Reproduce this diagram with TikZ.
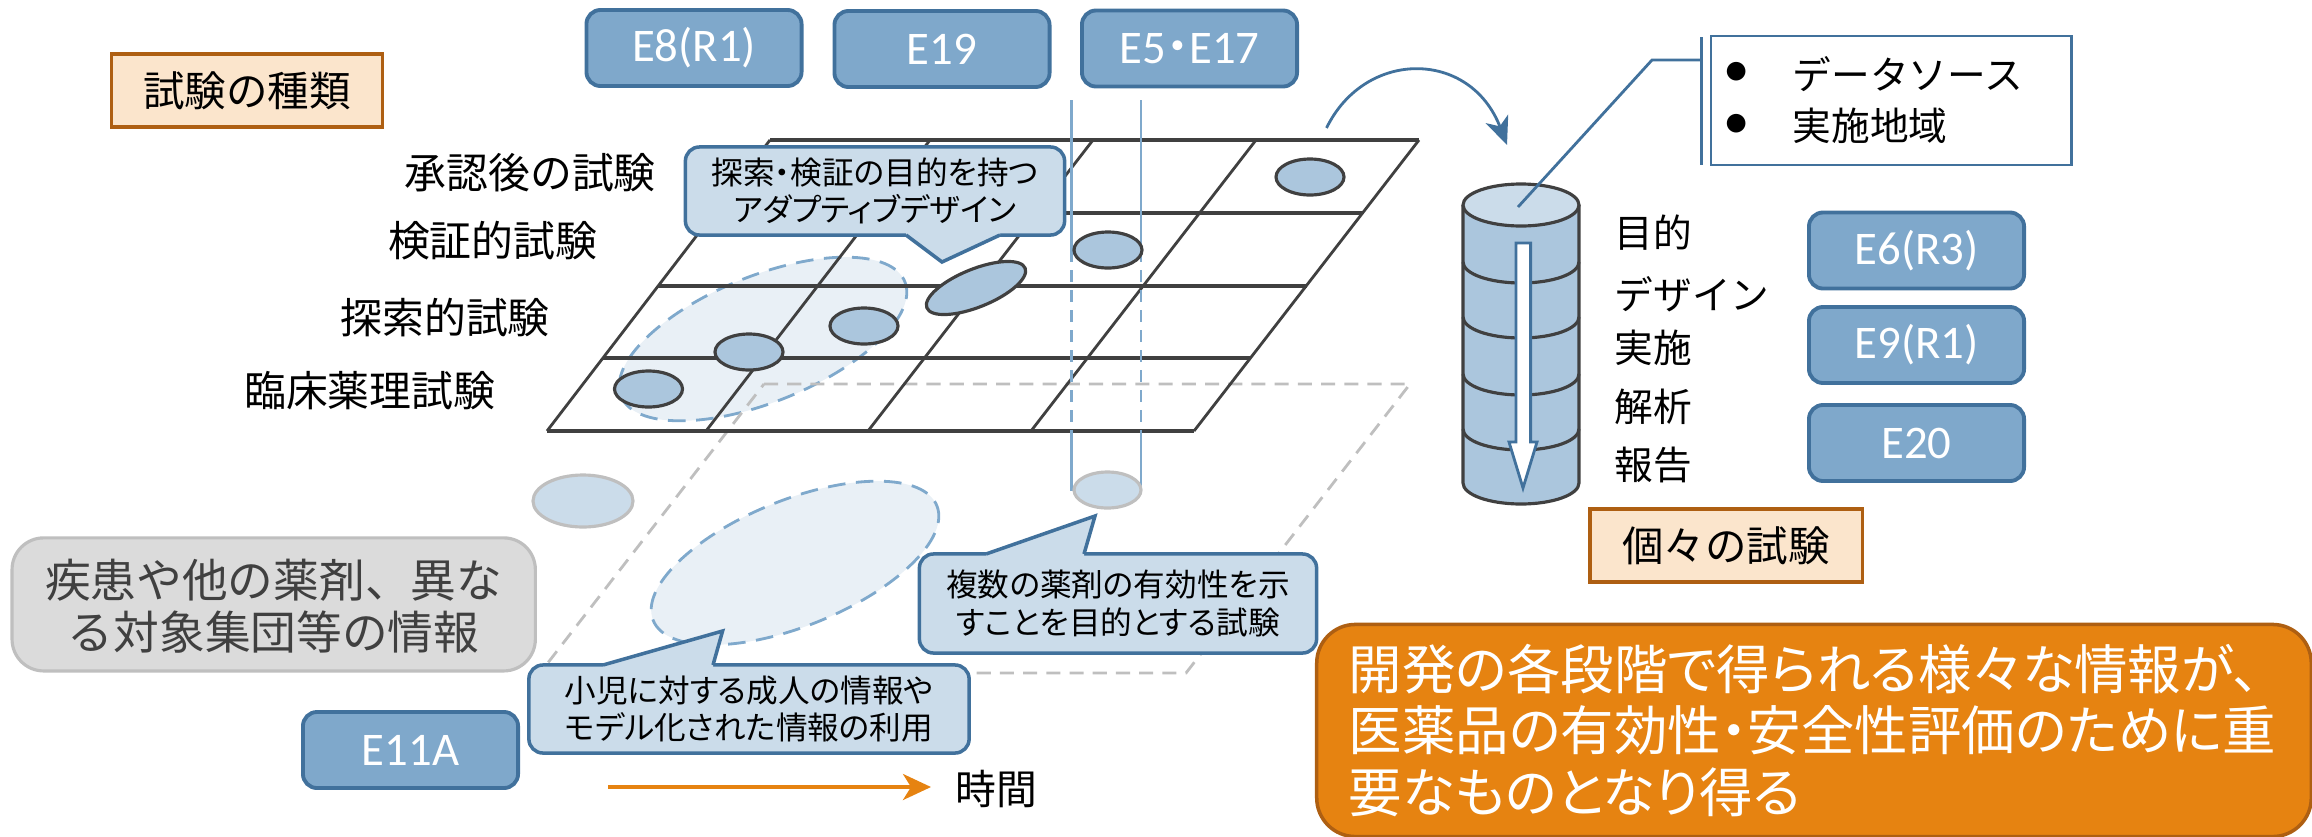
\documentclass[tikz,border=0pt]{standalone}
\usepackage{fontspec}
\setmainfont{Carlito}
\newfontfamily\jp{Noto Sans CJK JP}
\newfontfamily\jpnarrow[RawFeature=+palt]{Noto Sans CJK JP}
\usetikzlibrary{arrows.meta,calc}
\definecolor{boxblue}{HTML}{7FA8CB}
\definecolor{lineblue}{HTML}{41719C}
\definecolor{paleblue}{HTML}{CBDCEA}
\definecolor{midblue}{HTML}{ABC6DD}
\definecolor{ghostblue}{HTML}{E9F0F6}
\definecolor{dashblue}{HTML}{7FA9CC}
\definecolor{darkline}{HTML}{404040}
\definecolor{ghostline}{HTML}{BFBFBF}
\definecolor{peach}{HTML}{FBE5CC}
\definecolor{brownline}{HTML}{AE5F12}
\definecolor{orangebox}{HTML}{E68311}
\tikzset{
  stdbox/.style={rectangle, draw=lineblue, fill=boxblue, text=white, line width=1.1pt, rounded corners=4pt, minimum width=2.15cm, minimum height=0.76cm, font=\fontsize{13.3}{15}\selectfont},
  typebox/.style={rectangle, draw=brownline, fill=peach, line width=0.9pt, font=\jp\fontsize{11.8}{14}\selectfont, inner sep=0pt},
  balloon/.style={rectangle, draw=lineblue, fill=paleblue, line width=1pt, rounded corners=4pt, align=center, font=\jpnarrow\fontsize{9}{10.6}\selectfont, inner sep=0pt},
  balloontip/.style={draw=lineblue, line width=1pt},
  rowlabel/.style={anchor=east, inner sep=0pt, font=\jp\fontsize{11.9}{14}\selectfont},
  steplabel/.style={anchor=west, inner sep=0pt, font=\jp\fontsize{11}{14}\selectfont},
  gridline/.style={draw=darkline, line width=0.8pt},
  gridedge/.style={draw=darkline, line width=0.9pt},
  trialdot/.style={draw=darkline, fill=midblue, line width=0.9pt},
  ghostdot/.style={draw=ghostline, fill=paleblue, line width=0.9pt},
  tube/.style={draw=dashblue, line width=0.6pt},
  tubehidden/.style={draw=dashblue, line width=0.6pt, dash pattern=on 3.4pt off 2.3pt},
  bigoval/.style={fill=ghostblue, draw=dashblue, line width=0.8pt, dash pattern=on 5pt off 3pt},
  ghostplane/.style={draw=ghostline, line width=0.8pt, dash pattern=on 4pt off 2.6pt},
  leader/.style={draw=lineblue, line width=0.8pt},
  legendtext/.style={anchor=west, inner sep=0pt, font=\jp\fontsize{11}{14}\selectfont},
  legenddot/.style={inner sep=0pt, font=\fontsize{15}{15}\selectfont}
}
\begin{document}
\begin{tikzpicture}[x=0.01cm, y=-0.01cm]
    \useasboundingbox (0,0) rectangle (2312,836);

    % ovals
    \draw[bigoval, rotate around={22:(763,339)}] (763,339) ellipse (153 and 63);
    \draw[bigoval, rotate around={22:(795,563)}] (795,563) ellipse (153 and 63);

    % plane below
    \coordinate (gtl) at (764,384);
    \coordinate (gtr) at (1410,384);
    \coordinate (gbr) at (1186,673);
    \coordinate (gbl) at (540,673);
    \draw[ghostplane] (gtl) -- (gtr) -- (gbr) -- (gbl) -- cycle;

    % grid
    \foreach \ya/\xa/\xb in {140/770/1419, 213/714/1363, 286/658/1307, 358/603/1251, 431/547/1194}
        \draw[gridedge] (\xa,\ya) -- (\xb,\ya);
    \foreach \xb/\xt in {547/770, 706/930, 868/1093, 1031/1256, 1194/1419}
        \draw[gridline] (\xb,431) -- (\xt,140);

    % projection
    \draw[tube] (1071.5,100) -- (1071.5,250);
    \draw[tube] (1141,100) -- (1141,250);
    \draw[tubehidden] (1071.5,250) -- (1071.5,431);
    \draw[tubehidden] (1141,250) -- (1141,431);
    \draw[tube] (1071.5,431) -- (1071.5,491);
    \draw[tube] (1141,431) -- (1141,491);

    % trials
    \foreach \cx/\cy in {1310/177, 1108/250, 864/326, 749/352, 648.5/389}
        \draw[trialdot] (\cx,\cy) ellipse (34 and 18);
    \draw[trialdot, rotate around={22:(976,288)}] (976,288) ellipse (53 and 19);
    \draw[ghostdot] (583,501) ellipse (50 and 26);
    \draw[ghostdot] (1107.5,490) ellipse (33.5 and 18);

    % top boxes
    \node[stdbox] (e8) at (694,48) {E8(R1)};
    \node[stdbox] (e19) at (942,49) {E19};
    \node[stdbox] (e5) at (1189.5,48.5) {E5{\jpnarrow・}E17};

    % right boxes
    \node[stdbox] (e6) at (1916.5,250.5) {E6(R3)};
    \node[stdbox] (e9) at (1916.5,345) {E9(R1)};
    \node[stdbox] (e20) at (1916.5,443) {E20};
    \node[stdbox] (e11) at (410.5,750) {E11A};

    % labels
    \node[typebox, minimum width=2.71cm, minimum height=0.73cm] (kind) at (247,90.5) {試験の種類};
    \node[typebox, minimum width=2.72cm, minimum height=0.73cm] (each) at (1726,545.5) {個々の試験};
    \node[rowlabel] (r1) at (656.5,173) {承認後の試験};
    \node[rowlabel] (r2) at (598,241) {検証的試験};
    \node[rowlabel] (r3) at (550.5,318) {探索的試験};
    \node[rowlabel] (r4) at (496,391) {臨床薬理試験};
    \node[steplabel] (s1) at (1614,233) {目的};
    \node[steplabel] (s2) at (1614,294) {デザイン};
    \node[steplabel] (s3) at (1614,348) {実施};
    \node[steplabel] (s4) at (1614,407) {解析};
    \node[steplabel] (s5) at (1614,465) {報告};

    % balloons
    \node[balloon, minimum width=3.79cm, minimum height=0.88cm] (b1) at (875,191) {探索・検証の目的を持つ\\アダプティブデザイン};
    \coordinate (b1a) at (906,235); \coordinate (b1b) at (1000,235); \coordinate (b1t) at (942,262);
    \fill[paleblue] ($(b1a)+(0,-3)$) -- (b1a) -- (b1t) -- (b1b) -- ($(b1b)+(0,-3)$) -- cycle;
    \draw[balloontip] (b1a) -- (b1t) -- (b1b);

    \node[balloon, minimum width=3.97cm, minimum height=0.99cm] (b3) at (1118,603.5) {複数の薬剤の有効性を示\\すことを目的とする試験};
    \coordinate (b3a) at (986,554); \coordinate (b3b) at (1084,554); \coordinate (b3t) at (1095,516);
    \fill[paleblue] ($(b3a)+(0,3)$) -- (b3a) -- (b3t) -- (b3b) -- ($(b3b)+(0,3)$) -- cycle;
    \draw[balloontip] (b3a) -- (b3t) -- (b3b);

    \node[balloon, minimum width=4.4cm, minimum height=0.88cm] (b2) at (749,709) {小児に対する成人の情報や\\モデル化された情報の利用};
    \coordinate (b2a) at (603,665); \coordinate (b2b) at (713,665); \coordinate (b2t) at (722.6,631);
    \fill[paleblue] ($(b2a)+(0,3)$) -- (b2a) -- (b2t) -- (b2b) -- ($(b2b)+(0,3)$) -- cycle;
    \draw[balloontip] (b2a) -- (b2t) -- (b2b);

    % cylinder
    \fill[midblue] (1463,205) -- (1463,483) arc (180:360:58 and -21) -- (1579,205) -- cycle;
    \draw[gridedge] (1463,205) -- (1463,483) arc (180:360:58 and -21) -- (1579,205);
    \foreach \yy in {262,317,374,429}
        \draw[gridedge] (1463,\yy) arc (180:360:58 and -21);
    \draw[gridedge, fill=paleblue] (1521,205) ellipse (58 and 21);
    \draw[leader, fill=white] (1516,243) -- (1530.6,243) -- (1530.6,442) -- (1537,442) -- (1523,488) -- (1509,442) -- (1516,442) -- cycle;

    % legend
    \node[rectangle, draw=lineblue, fill=white, line width=0.8pt, minimum width=3.6cm, minimum height=1.29cm] (legend) at (1891,100.5) {};
    \node[legenddot] (dot1) at (1737,74) {•};
    \node[legenddot] (dot2) at (1737,126) {•};
    \node[legendtext] (leg1) at (1792,74) {データソース};
    \node[legendtext] (leg2) at (1792,126) {実施地域};
    \coordinate (brt) at (1701.5,37);
    \coordinate (brb) at (1701.5,165);
    \coordinate (brm) at (1701.5,60);
    \coordinate (brk) at (1652,60);
    \coordinate (cyl) at (1518,207);
    \draw[leader] (brt) -- (brb);
    \draw[leader] (brm) -- (brk) -- (cyl);

    % arrows
    \coordinate (ca) at (1326.5,128);
    \coordinate (cb) at (1507,145);
    \draw[leader, -{Stealth[length=0.28cm,width=0.24cm,inset=0.08cm]}] (ca) .. controls (1365,49) and (1470,49) .. (cb);
    \coordinate (ta) at (608,787);
    \coordinate (tb) at (931,787);
    \draw[orangebox, line width=1pt, -{Stealth[length=0.28cm,width=0.26cm,inset=0.08cm]}] (ta) -- (tb);
    \node[font=\jp\fontsize{11.6}{14}\selectfont, anchor=west, inner sep=0pt] (timelabel) at (955,789) {時間};

    % grey and orange notes
    \node[rectangle, draw=ghostline, fill=black!14, text=darkline, line width=0.9pt, rounded corners=9pt, minimum width=5.23cm, minimum height=1.33cm, align=center, font=\jp\fontsize{13}{14.8}\selectfont, text depth=0pt] (grey) at (273.7,604.4) {疾患や他の薬剤、異な\\る対象集団等の情報};
    \node[rectangle, draw=brownline, fill=orangebox, text=white, line width=1pt, rounded corners=11pt, minimum width=9.94cm, minimum height=2.12cm, text width=9.3cm, align=left, font=\jpnarrow\fontsize{15.2}{17.4}\selectfont] (note) at (1814,730.5) {開発の各段階で得られる様々な情報が、\\医薬品の有効性・安全性評価のために重\\要なものとなり得る};
\end{tikzpicture}
\end{document}
